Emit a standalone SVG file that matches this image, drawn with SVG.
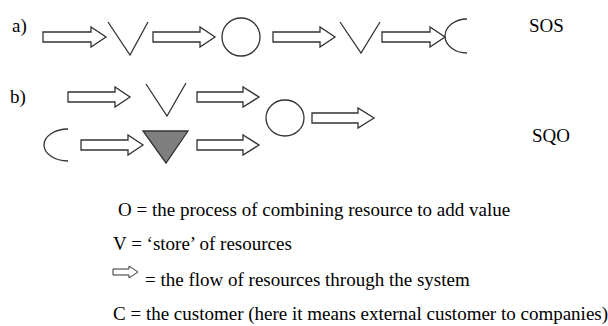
<svg xmlns="http://www.w3.org/2000/svg" width="608" height="326" viewBox="0 0 608 326">
<style>
.s{fill:none;stroke:#333;stroke-width:1.3;stroke-linejoin:miter}
.ar{fill:#fff;stroke:#333;stroke-width:1.3;stroke-linejoin:miter}
.tri{fill:#7f7f7f;stroke:#333;stroke-width:1.3}
text{font-family:"Liberation Serif","Times New Roman",serif;font-size:19px;fill:#000}
</style>
<rect width="608" height="326" fill="#fff"/>
<g id="label-a"><text x="12" y="32">a)</text></g>
<g id="label-b"><text x="10" y="103">b)</text></g>
<g id="label-sos"><text x="529" y="32">SOS</text></g>
<g id="label-sqo"><text x="532" y="142">SQO</text></g>

<g id="a-v1"><polyline class="s" points="108,22 130,55 148,22"/></g>
<g id="a-o"><circle class="s" cx="241" cy="37" r="19"/></g>
<g id="a-v2"><polyline class="s" points="340,22 361,53 380,22"/></g>
<g id="a-c"><path class="s" d="M467,19 A22,17 0 0 0 467,53"/></g>

<g id="b-v"><polyline class="s" points="146,84 167,116 186,83"/></g>
<g id="b-o"><ellipse class="s" cx="285" cy="118" rx="19" ry="18"/></g>
<g id="b-c"><path class="s" d="M68,129 A24,16 0 0 0 68,161"/></g>
<g id="b-inv"><polygon class="tri" points="143,131 188,131 166,163"/></g>

<g id="connectors">
<polygon class="ar" points="43,32 91,32 91,27 106,37 91,47 91,42 43,42"/>
<polygon class="ar" points="153,32 200,32 200,27 215,37 200,47 200,42 153,42"/>
<polygon class="ar" points="273,32 320,32 320,27 335,37 320,47 320,42 273,42"/>
<polygon class="ar" points="382,32 430,32 430,27 445,37 430,47 430,42 382,42"/>
<polygon class="ar" points="68,92 115,92 115,87 130,97 115,107 115,102 68,102"/>
<polygon class="ar" points="197,92 243,92 243,87 259,97 243,107 243,102 197,102"/>
<polygon class="ar" points="312,113 358,113 358,108 374,118 358,128 358,123 312,123"/>
<polygon class="ar" points="81,140 128,140 128,135 143,145 128,155 128,150 81,150"/>
<polygon class="ar" points="197,140 243,140 243,135 259,145 243,155 243,150 197,150"/>
</g>

<g id="legend">
<text x="118" y="216">O = the process of combining resource to add value</text>
<text x="113" y="250">V = ‘store’ of resources</text>
<polygon class="ar" points="113,269 129,269 129,266 138,272 129,278 129,275 113,275" style="stroke-width:1"/>
<text x="145" y="286">= the flow of resources through the system</text>
<text x="113" y="320">C = the customer (here it means external customer to companies)</text>
</g>
</svg>
